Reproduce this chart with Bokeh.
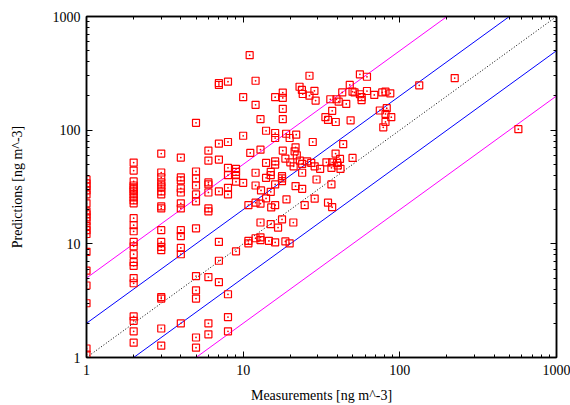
from bokeh.plotting import figure
from bokeh.models import Range1d, FixedTicker, LogAxis, PrintfTickFormatter, ColumnDataSource
from bokeh.embed import file_html
from bokeh.resources import INLINE

# ---- data: measurements (x) and predictions (y), ng m^-3 ----
meas_1 = [1] * 19
pred_1 = [36.8, 34.0, 32.0, 29.5, 27.2, 22.7, 19.3, 18.2, 17.1, 15.8, 14.3, 13.2, 12.2, 8.5, 5.8, 4.3, 3.0, 1.2, 1.06]
meas_2 = [2] * 25
pred_2 = [51.9, 44.1, 35.4, 32.6, 31.4, 30.1, 28.9, 27.2, 25.6, 24.1, 22.7, 16.8, 14.6, 12.9, 10.4, 9.5, 8.1, 6.9, 6.4, 5.0, 4.5, 2.3, 2.1, 1.7, 1.35]
meas_3 = [3] * 18
pred_3 = [62.2, 42.4, 38.4, 34.7, 32.6, 31.4, 28.9, 27.2, 21.4, 20.5, 13.2, 10.4, 9.4, 8.8, 3.4, 3.3, 1.8, 1.27]
meas_4 = [4] * 12
pred_4 = [57.4, 38.4, 36.1, 30.7, 28.3, 22.7, 20.5, 13.2, 11.7, 9.2, 8.1, 2.0]
meas_5 = [5] * 12
pred_5 = [116, 43.3, 37.6, 32.6, 27.2, 23.6, 13.7, 5.2, 3.9, 3.3, 1.5, 1.22]
meas_6 = [6] * 10
pred_6 = [66.0, 54.0, 34.7, 33.3, 28.3, 20.5, 19.3, 5.1, 2.0, 1.6]
meas_7 = [7] * 8
pred_7 = [260, 250, 76, 55.1, 28.9, 10.4, 7.1, 4.6]
meas_8 = [8] * 9
pred_8 = [267, 78.7, 46.6, 40.2, 31.1, 27.2, 3.6, 2.27, 1.7]
meas_9 = [9] * 5
pred_9 = [45.7, 43.0, 40.2, 35.2, 8.6]
meas_10 = [10] * 3
pred_10 = [195, 89.3, 34.4]

meas_mid = [11.1, 12.9, 12, 12, 13, 14, 15, 15, 14, 15, 14, 16, 19.8, 16, 16, 17.9, 21.3, 21.6, 22,
            18.6, 20, 23, 23.8, 25.6, 21, 27.2, 28.6, 31, 27.8, 17.7, 17.7, 17.7, 23.8, 29.4, 16,
            21.6, 23.8, 10.8, 12, 12.9, 16, 24.7, 28.6, 12.9, 15, 17.7, 20.9, 16.7, 10.8, 10.8, 12,
            12.9, 12.9, 14.6, 16, 18.6, 19.8, 18.9, 15.1]
pred_mid = [63, 67.4, 42.2, 32.6, 29.5, 51.5, 43, 40.2, 38.1, 28.7, 25.1, 85.3, 85.3, 53.2, 49.8, 66,
            65.2, 70.6, 60.1, 56.2, 52.1, 54, 50.5, 53.2, 48.1, 51.5, 48.1, 45.7, 78.7, 39.4, 37.6,
            35.6, 42.2, 36.8, 33.3, 32.2, 30.5, 21.9, 23, 22.6, 21.9, 21.9, 25, 15.4, 14.9, 16.4,
            15.4, 13.9, 10.6, 10.1, 11.2, 11.4, 10.8, 10.6, 10.3, 10.5, 10.1, 24.6, 20.9]

meas_cl = [34, 37, 39.8, 36.6, 40.2, 41.8, 38.9, 41.5, 49.9, 43.5, 36.6, 34.8, 37]
pred_cl = [52.1, 52.1, 51.5, 46.6, 48.9, 45.7, 62.2, 55.9, 57, 75.3, 33.3, 23, 21]

meas_top = [11, 12, 12, 16, 17.9, 17.9, 17.9, 17.9, 12.9, 14, 16, 18.8, 21.8, 22.9, 23.7, 24, 26.5,
            26.5, 55.6, 61.7, 28.5, 29, 47.9, 49.9, 42.9, 51.4, 55.6, 57, 57, 61.7, 68.7, 77.2, 81,
            86.9, 36, 39.4, 40.7, 45.5, 37, 33.5, 34.8, 39, 48.5, 74.5, 82.5, 81, 88.2, 81, 78.4,
            133, 224, 571]
pred_top = [457, 272, 167, 195, 214, 192, 154, 125, 125, 98.8, 94.4, 93, 91.2, 241, 226, 208, 301,
            201, 310, 295, 222, 182, 250, 218, 215, 215, 207, 195, 184, 221, 204, 215, 218, 211,
            187, 187, 178, 170, 148, 130, 123, 118, 122, 149, 156, 139, 130, 118, 106,
            248, 287, 102]

# reference lines y = k * x
line_factors = [5, 2, 1, 0.5, 0.2]
line_colors = ["#ff00ff", "#0000ff", "#000000", "#0000ff", "#ff00ff"]
line_x = [1, 1000]

measurements = (meas_1 + meas_2 + meas_3 + meas_4 + meas_5 + meas_6 + meas_7 + meas_8 + meas_9
                + meas_10 + meas_mid + meas_cl + meas_top)
predictions = (pred_1 + pred_2 + pred_3 + pred_4 + pred_5 + pred_6 + pred_7 + pred_8 + pred_9
               + pred_10 + pred_mid + pred_cl + pred_top)

FONT = "Liberation Serif"

p = figure(width=570, height=405, x_axis_type="log", y_axis_type="log",
           x_range=Range1d(1, 1000), y_range=Range1d(1, 1000),
           output_backend="svg", toolbar_location=None,
           min_border_left=86, min_border_right=14, min_border_top=16, min_border_bottom=46)
p.xgrid.visible = False
p.ygrid.visible = False
p.background_fill_color = "white"
p.border_fill_color = "white"
p.outline_line_color = "black"
p.outline_line_width = 1.5

for k, c in zip(line_factors, line_colors):
    ys = [k * v for v in line_x]
    if k == 1:
        p.line(line_x, ys, line_color=c, line_width=1, line_dash="1 2")
    else:
        p.line(line_x, ys, line_color=c, line_width=1)

src = ColumnDataSource(dict(x=measurements, y=predictions))
p.scatter("x", "y", source=src, marker="square_dot", size=7, line_color="#ff0000",
          fill_color=None, line_width=1.2)

major = [1, 10, 100, 1000]
minor = [m * d for d in (1, 10, 100) for m in range(2, 10)]


def style(ax, labels=True):
    ax.ticker = FixedTicker(ticks=major, minor_ticks=minor)
    ax.formatter = PrintfTickFormatter(format="%d")
    ax.major_tick_in = 6
    ax.major_tick_out = 0
    ax.minor_tick_in = 3
    ax.minor_tick_out = 0
    ax.axis_line_color = "black"
    ax.axis_line_width = 1.5
    ax.major_tick_line_color = "black"
    ax.minor_tick_line_color = "black"
    ax.major_label_text_font = FONT
    ax.major_label_text_font_size = "14px"
    ax.major_label_text_color = "black"
    ax.axis_label_text_font = FONT
    ax.axis_label_text_font_size = "14px"
    ax.axis_label_text_font_style = "normal"
    ax.axis_label_text_color = "black"
    if not labels:
        ax.major_label_text_font_size = "1px"
        ax.major_label_text_color = None
        ax.major_label_standoff = 0


xa = p.xaxis[0]
style(xa)
xa.axis_label = "Measurements [ng m^-3]"
xa.major_label_standoff = 7
xa.axis_label_standoff = 10

ya = p.yaxis[0]
style(ya)
ya.axis_label = "Predictions [ng m^-3]"
ya.major_label_standoff = 6
ya.axis_label_standoff = 25

top = LogAxis()
style(top, labels=False)
p.add_layout(top, "above")
right = LogAxis()
style(right, labels=False)
p.add_layout(right, "right")

open("out.html", "w").write(file_html(p, INLINE))
